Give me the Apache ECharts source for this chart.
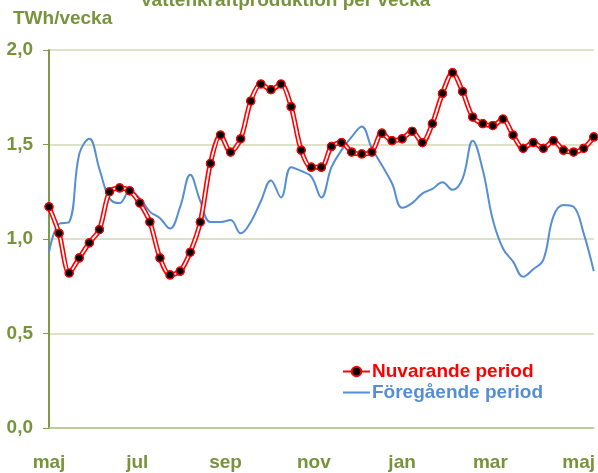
<!DOCTYPE html>
<html>
<head>
<meta charset="utf-8">
<script src="https://cdn.jsdelivr.net/npm/echarts@6/dist/echarts.min.js"></script>
<style>
html,body{margin:0;padding:0;background:#fff;}
#main{width:598px;height:473px;}
</style>
</head>
<body>
<div id="main"></div>
<script>
// manadsetiketter langs x-axeln (ca 8,75 veckor mellan varje)
var months = ['maj','jul','sep','nov','jan','mar','maj'];
var yTicks = [0, 0.5, 1.0, 1.5, 2.0];
// TWh per vecka, vecka 0..54
var nuvarande = [1.17,1.03,0.82,0.90,0.98,1.05,1.25,1.27,1.255,1.19,1.09,0.90,0.81,0.83,0.93,1.09,1.40,1.55,1.46,1.53,
    1.73,1.82,1.79,1.82,1.70,1.47,1.38,1.38,1.49,1.51,1.46,1.45,1.46,1.56,1.52,1.53,1.57,1.51,1.61,1.77,
    1.88,1.78,1.645,1.61,1.60,1.635,1.55,1.48,1.51,1.48,1.52,1.47,1.46,1.48,1.54];
var foregaende = [0.93,1.08,1.09,1.45,1.53,1.37,1.215,1.19,1.255,1.215,1.145,1.11,1.055,1.17,1.34,1.20,1.09,1.09,1.10,1.03,
    1.09,1.20,1.31,1.22,1.38,1.36,1.33,1.22,1.38,1.47,1.54,1.595,1.48,1.39,1.295,1.165,1.19,1.24,1.265,1.30,
    1.26,1.32,1.52,1.365,1.10,0.95,0.88,0.80,0.84,0.89,1.12,1.18,1.17,1.03,0.83];

var STEP = 8.75;
var GREEN = '#77933c';
var FONT = 'Liberation Sans';
var FS = 19;

function pairs(arr){
    var out = [];
    for (var i = 0; i < arr.length; i++) out.push([i, arr[i]]);
    return out;
}

var chart = echarts.init(document.getElementById('main'));
var option = {
    animation: false,
    title: {
        text: 'Vattenkraftproduktion per vecka',
        left: 135, top: -14,
        textStyle: {color: GREEN, fontFamily: FONT, fontWeight: 'bold', fontSize: FS}
    },
    graphic: [{
        type: 'text', left: 13, top: 9,
        style: {text: 'TWh/vecka', fill: GREEN, font: 'bold ' + FS + 'px "Liberation Sans"'}
    }],
    grid: {left: 49, right: 2, top: 50, bottom: 45},
    legend: {
        orient: 'vertical', left: 342, top: 362, itemGap: 2, padding: 0,
        itemWidth: 27, itemHeight: 12,
        data: [
            {name: 'Nuvarande period', textStyle: {color: '#ff0000'}},
            {name: 'Föregående period', textStyle: {color: '#558ed5'}, itemStyle: {opacity: 0}}
        ],
        textStyle: {fontFamily: FONT, fontWeight: 'bold', fontSize: FS, padding: [0, 0, 0, -3]}
    },
    xAxis: {
        type: 'value', min: 0, max: nuvarande.length - 1, interval: STEP,
        axisLine: {lineStyle: {color: '#b3c48c', width: 1.5}},
        axisTick: {show: false},
        splitLine: {show: false},
        axisLabel: {
            margin: 25, color: GREEN, fontFamily: FONT, fontWeight: 'bold', fontSize: FS,
            formatter: function (v) {
                var k = Math.round(v / STEP);
                if (Math.abs(v - k * STEP) < 0.01 && months[k]) return months[k];
                return '';
            }
        }
    },
    yAxis: {
        type: 'value', min: yTicks[0], max: yTicks[yTicks.length - 1], interval: 0.5,
        axisLine: {show: true, lineStyle: {color: '#7f9a48', width: 2}},
        axisTick: {show: true, length: 6, lineStyle: {color: '#7f9a48', width: 1}},
        splitLine: {lineStyle: {color: '#cfd8b6', width: 1.5}},
        axisLabel: {
            margin: 16, color: GREEN, fontFamily: FONT, fontWeight: 'bold', fontSize: FS,
            formatter: function (v) { return v.toFixed(1).replace('.', ','); }
        }
    },
    series: [
        {
            name: 'Föregående period', type: 'line', data: pairs(foregaende), smooth: 0.4,
            showSymbol: false, symbol: 'none', z: 2,
            lineStyle: {color: '#558ed5', width: 2},
            itemStyle: {color: '#558ed5'}
        },
        {
            name: 'Nuvarande period', type: 'line', data: pairs(nuvarande), smooth: 0.3,
            symbol: 'circle', symbolSize: 8, showSymbol: true, z: 3,
            lineStyle: {color: '#ff0000', width: 5},
            itemStyle: {color: '#000', borderColor: '#ff0000', borderWidth: 1.2}
        },
        {
            // vita mittlinjen i den dubbla roda linjen
            name: 'inner', type: 'line', data: pairs(nuvarande), smooth: 0.3,
            symbol: 'none', z: 4, silent: true,
            lineStyle: {color: '#fff', width: 1.8}
        },
        {
            // markorer ovanpa
            name: 'dots', type: 'line', data: pairs(nuvarande), z: 5, silent: true,
            symbol: 'circle', symbolSize: 8,
            lineStyle: {opacity: 0},
            itemStyle: {color: '#000', borderColor: '#ff0000', borderWidth: 1.2}
        }
    ]
};
chart.setOption(option);
</script>
</body>
</html>
